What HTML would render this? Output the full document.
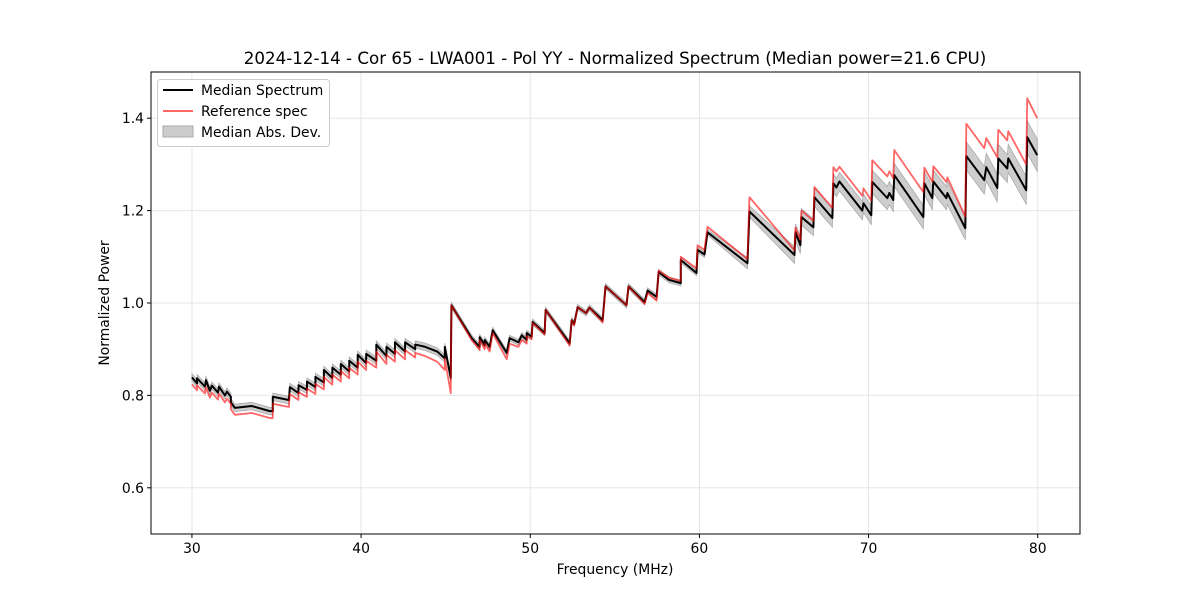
<!DOCTYPE html>
<html><head><meta charset="utf-8"><style>
html,body{margin:0;padding:0;background:#fff;}
svg{display:block;font-family:"DejaVu Sans","Liberation Sans",sans-serif;}
</style></head><body>
<svg id="chart" width="1200" height="600" viewBox="0 0 1200 600"></svg>
<script>
const freq=[30.0,30.3,30.3,30.77,30.83,31.06,31.18,31.54,31.6,31.95,
32.07,32.3,32.3,32.54,33.54,34.6,34.78,34.78,35.73,35.79,
36.3,36.3,36.8,36.8,37.3,37.3,37.8,37.8,38.3,38.3,
38.8,38.8,39.3,39.3,39.8,39.8,40.3,40.3,40.9,40.9,
41.5,41.5,42.0,42.0,42.6,42.6,43.2,43.2,43.8,44.5,
44.95,44.95,45.3,45.34,46.54,47.01,47.01,47.31,47.31,47.6,
47.78,48.61,48.78,49.3,49.5,49.79,49.79,50.08,50.14,50.85,
50.91,52.33,52.45,52.6,52.8,53.3,53.5,54.28,54.45,55.69,
55.81,56.76,56.94,57.47,57.59,58.2,58.9,58.9,59.83,59.89,
60.3,60.48,62.84,62.96,65.62,65.68,65.97,66.03,66.74,66.8,
67.86,67.92,68.1,68.28,69.63,69.7,70.16,70.22,71.11,71.23,
71.46,71.52,73.24,73.3,73.77,73.83,74.6,74.66,75.72,75.78,
76.84,76.96,77.61,77.67,78.2,78.26,79.32,79.38,79.97];
const median=[.839,.826,.837,.819,.833,.81,.821,.806,.819,.80,
.808,.797,.785,.773,.777,.766,.766,.797,.79,.818,
.805,.822,.812,.83,.818,.84,.828,.855,.838,.86,
.845,.868,.852,.875,.86,.888,.87,.89,.875,.91,
.885,.905,.89,.915,.895,.915,.9,.91,.905,.895,
.88,.905,.838,.995,.924,.905,.926,.909,.92,.905,
.941,.892,.924,.915,.93,.92,.935,.927,.959,.935,
.985,.913,.963,.955,.991,.978,.99,.963,1.036,.995,
1.036,1.002,1.027,1.013,1.067,1.05,1.043,1.093,1.065,1.115,
1.105,1.153,1.086,1.198,1.104,1.153,1.125,1.186,1.164,1.229,
1.184,1.259,1.25,1.263,1.2,1.216,1.19,1.262,1.227,1.238,
1.223,1.277,1.186,1.259,1.227,1.263,1.227,1.238,1.162,1.318,
1.266,1.294,1.249,1.313,1.291,1.313,1.244,1.359,1.32];
const reference=[.824,.811,.822,.804,.818,.795,.806,.791,.804,.785,
.793,.782,.77,.758,.762,.751,.751,.782,.775,.803,
.79,.807,.797,.815,.803,.825,.813,.84,.823,.845,
.83,.853,.837,.86,.845,.873,.855,.875,.86,.895,
.868,.888,.873,.898,.878,.898,.882,.892,.885,.873,
.855,.88,.805,.995,.92,.898,.92,.9,.912,.895,
.935,.878,.912,.905,.92,.912,.928,.922,.957,.932,
.985,.908,.963,.952,.991,.978,.99,.958,1.036,.995,
1.036,.998,1.022,1.005,1.07,1.055,1.048,1.1,1.075,1.125,
1.115,1.165,1.095,1.229,1.114,1.163,1.137,1.2,1.178,1.251,
1.206,1.294,1.285,1.295,1.232,1.248,1.222,1.309,1.274,1.285,
1.27,1.331,1.24,1.293,1.262,1.296,1.262,1.272,1.187,1.388,
1.335,1.357,1.315,1.375,1.352,1.372,1.30,1.443,1.40];
const mad=[.008,.008,.008,.008,.008,.008,.008,.008,.008,.008,
.008,.008,.008,.008,.008,.008,.008,.008,.008,.008,
.008,.008,.008,.008,.008,.008,.008,.008,.008,.008,
.008,.008,.008,.008,.008,.008,.008,.008,.008,.008,
.008,.008,.008,.008,.008,.008,.008,.008,.008,.008,
.008,.008,.008,.006,.006,.006,.006,.006,.006,.006,
.006,.006,.006,.006,.006,.006,.006,.006,.006,.006,
.006,.006,.006,.006,.006,.006,.006,.006,.006,.006,
.006,.006,.006,.006,.006,.006,.006,.006,.006,.006,
.006,.006,.012,.012,.018,.018,.018,.018,.018,.02,
.02,.02,.02,.02,.02,.02,.02,.025,.025,.025,
.025,.025,.025,.025,.025,.025,.025,.025,.025,.03,
.03,.03,.03,.03,.03,.03,.03,.035,.035];
const xTicks=[30,40,50,60,70,80];
const yTicks=[0.6,0.8,1.0,1.2,1.4];
const yTickLabels=["0.6","0.8","1.0","1.2","1.4"];

const L=151,R=1080,T=72,B=534;
const xMin=27.58,xMax=82.5,yMin=0.5,yMax=1.5;
const X=f=>L+(f-xMin)/(xMax-xMin)*(R-L);
const Y=v=>B-(v-yMin)/(yMax-yMin)*(B-T);
const NS="http://www.w3.org/2000/svg";
const svg=document.getElementById('chart');
function mk(tag,attrs,parent){const e=document.createElementNS(NS,tag);for(const k in attrs)e.setAttribute(k,attrs[k]);(parent||svg).appendChild(e);return e;}

const grid=mk('g',{});


xTicks.forEach(t=>{mk('line',{x1:X(t),x2:X(t),y1:T,y2:B,stroke:'#e6e6e6','stroke-width':1},grid);});
yTicks.forEach(t=>{mk('line',{x1:L,x2:R,y1:Y(t),y2:Y(t),stroke:'#e6e6e6','stroke-width':1},grid);});

let up=freq.map((f,i)=>X(f).toFixed(2)+','+Y(median[i]+mad[i]).toFixed(2));
let dn=freq.map((f,i)=>X(f).toFixed(2)+','+Y(median[i]-mad[i]).toFixed(2)).reverse();
const band=mk('polygon',{points:up.concat(dn).join(' '),fill:'#c4c4c4','fill-opacity':0.85,stroke:'#aaaaaa','stroke-width':0.8});



const medLine=mk('polyline',{points:freq.map((f,i)=>X(f).toFixed(2)+','+Y(median[i]).toFixed(2)).join(' '),fill:'none',stroke:'#000','stroke-width':2,'stroke-linejoin':'round'});



const refLine=mk('polyline',{points:freq.map((f,i)=>X(f).toFixed(2)+','+Y(reference[i]).toFixed(2)).join(' '),fill:'none',stroke:'#ff0000','stroke-opacity':0.6,'stroke-width':1.8,'stroke-linejoin':'round'});



const frame=mk('rect',{x:L,y:T,width:R-L,height:B-T,fill:'none',stroke:'#000','stroke-width':1});



xTicks.forEach(t=>{
  mk('line',{x1:X(t),x2:X(t),y1:B,y2:B+4,stroke:'#000'});
  const tx=mk('text',{x:X(t),y:B+19,'text-anchor':'middle','font-size':13.9,fill:'#000'});
  tx.textContent=String(t);
  
  
});
yTicks.forEach((t,i)=>{
  mk('line',{x1:L-4,x2:L,y1:Y(t),y2:Y(t),stroke:'#000'});
  const tx=mk('text',{x:L-7,y:Y(t)+5,'text-anchor':'end','font-size':13.9,fill:'#000'});
  tx.textContent=yTickLabels[i];
  
  
});
</script>
<svg style="position:absolute;left:0;top:0" width="1200" height="600">
<text x="615" y="64" text-anchor="middle" font-size="16.7" font-family="DejaVu Sans, Liberation Sans, sans-serif">2024-12-14 - Cor 65 - LWA001 - Pol YY - Normalized Spectrum (Median power=21.6 CPU)</text>
<text x="615" y="574" text-anchor="middle" font-size="13.9" font-family="DejaVu Sans, Liberation Sans, sans-serif">Frequency (MHz)</text>
<text transform="translate(109,303) rotate(-90)" text-anchor="middle" font-size="13.9" font-family="DejaVu Sans, Liberation Sans, sans-serif">Normalized Power</text>
<g font-family="DejaVu Sans, Liberation Sans, sans-serif" font-size="13.9">
<rect x="157.5" y="79.5" width="172" height="67" rx="3" fill="#fff" fill-opacity="0.85" stroke="#cccccc"/>
<g><line x1="163" x2="193" y1="90" y2="90" stroke="#000" stroke-width="2"/><text x="201" y="95">Median Spectrum</text></g>
<g><line x1="163" x2="193" y1="111" y2="111" stroke="#ff6666" stroke-width="2"/><text x="201" y="116">Reference spec</text></g>
<g><rect x="163" y="126" width="30" height="11" fill="#cccccc" stroke="#aaaaaa"/><text x="201" y="137">Median Abs. Dev.</text></g>
</g>
</svg>
</body></html>
